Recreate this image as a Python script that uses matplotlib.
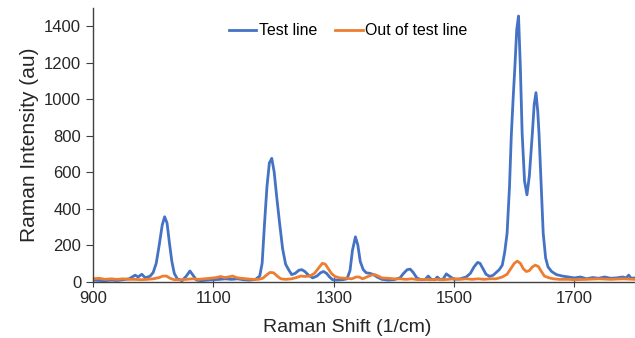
import matplotlib.pyplot as plt

plt.rcParams['font.family'] = ['Liberation Sans', 'DejaVu Sans']

# Raman shift (1/cm) and intensities (au)
shift_test = [900, 910, 920, 930, 940, 950, 960, 970, 975, 981, 987, 995,
              1000, 1005, 1010, 1015, 1019, 1023, 1027, 1031, 1035, 1040,
              1048, 1055, 1061, 1066, 1072, 1080, 1090, 1100, 1110, 1120,
              1130, 1140, 1150, 1160, 1170, 1177, 1181, 1185, 1189, 1193,
              1197, 1201, 1205, 1210, 1215, 1220, 1225, 1230, 1236, 1242,
              1247, 1252, 1258, 1265, 1272, 1278, 1283, 1288, 1293, 1298,
              1305, 1315, 1322, 1327, 1331, 1336, 1340, 1344, 1349, 1354,
              1360, 1366, 1372, 1380, 1390, 1400, 1410, 1416, 1422, 1427,
              1432, 1438, 1445, 1452, 1457, 1462, 1468, 1472, 1477, 1482,
              1487, 1492, 1500, 1510, 1520, 1527, 1533, 1539, 1543, 1548,
              1553, 1559, 1565, 1570, 1575, 1580, 1584, 1588, 1592, 1595,
              1598, 1601, 1604, 1607, 1610, 1613, 1617, 1621, 1625, 1628,
              1630, 1633, 1636, 1639, 1641, 1645, 1648, 1652, 1656, 1662,
              1670, 1680, 1690, 1700, 1710, 1720, 1730, 1740, 1750, 1760,
              1770, 1780, 1786, 1790, 1794, 1800]
test_line = [8, 6, 5, 8, 6, 10, 15, 35, 25, 40, 20, 30,
             50, 100, 200, 310, 355, 320, 210, 110, 45, 15,
             5, 30, 58, 35, 8, 5, 8, 10, 12, 15,
             12, 15, 10, 8, 12, 30, 100, 320, 520, 650,
             675, 600, 470, 320, 180, 95, 65, 38, 45, 62,
             65, 55, 35, 20, 30, 48, 55, 45, 25, 10,
             8, 10, 15, 60, 170, 245, 200, 110, 65, 48,
             45, 38, 25, 12, 8, 10, 20, 45, 65, 68,
             50, 20, 10, 12, 30, 12, 10, 25, 10, 15,
             42, 30, 12, 15, 25, 45, 80, 105, 100, 70,
             40, 28, 35, 50, 65, 90, 160, 265, 520, 800,
             1000, 1180, 1380, 1455, 1177, 813, 550, 475, 580, 720,
             813, 970, 1035, 930, 813, 500, 265, 130, 80, 55,
             38, 30, 25, 20, 25, 15, 22, 18, 25, 18,
             20, 25, 20, 35, 18, 20]

shift_out = [900, 910, 920, 930, 940, 950, 960, 970, 980, 990, 1000, 1010,
             1016, 1022, 1028, 1035, 1045, 1055, 1065, 1075, 1085, 1095,
             1105, 1112, 1118, 1125, 1132, 1138, 1145, 1155, 1165, 1175,
             1182, 1188, 1194, 1200, 1206, 1212, 1220, 1230, 1238, 1245,
             1252, 1260, 1268, 1275, 1281, 1286, 1291, 1296, 1302, 1310,
             1320, 1330, 1337, 1342, 1348, 1355, 1362, 1368, 1374, 1380,
             1390, 1400, 1410, 1420, 1430, 1440, 1450, 1460, 1470, 1480,
             1490, 1500, 1510, 1520, 1530, 1540, 1550, 1560, 1570, 1580,
             1588, 1594, 1600, 1605, 1610, 1615, 1620, 1625, 1630, 1635,
             1640, 1645, 1650, 1658, 1665, 1675, 1690, 1700, 1720, 1740,
             1760, 1780, 1800]
out_line = [15, 18, 12, 15, 12, 15, 12, 12, 10, 12, 15, 22,
            30, 30, 18, 10, 10, 12, 15, 12, 15, 18,
            22, 28, 22, 25, 30, 22, 18, 15, 12, 12,
            18, 35, 50, 48, 30, 15, 12, 15, 22, 30,
            28, 30, 45, 75, 100, 95, 70, 45, 28, 20,
            18, 15, 25, 25, 15, 25, 35, 38, 30, 20,
            18, 15, 15, 12, 15, 10, 12, 10, 12, 10,
            12, 15, 12, 15, 12, 15, 12, 15, 15, 25,
            40, 70, 100, 112, 100, 70, 55, 60, 80, 90,
            82, 55, 30, 20, 15, 12, 12, 10, 12, 15,
            12, 15, 12]

x_ticks = [900, 1100, 1300, 1500, 1700]
y_ticks = [0, 200, 400, 600, 800, 1000, 1200, 1400]

fig = plt.figure(figsize=(6.35, 3.38), dpi=100)
ax = fig.add_axes([0.1465, 0.167, 0.853, 0.81])

ax.plot(shift_test, test_line, color='#4472C4', lw=2, label='Test line',
        solid_joinstyle='round')
ax.plot(shift_out, out_line, color='#ED7D31', lw=2, label='Out of test line',
        solid_joinstyle='round')

ax.set_xlim(900, 1800)
ax.set_ylim(0, 1500)
ax.set_xticks(x_ticks)
ax.set_yticks(y_ticks)

for side in ['top', 'right']:
    ax.spines[side].set_visible(False)
for side in ['left', 'bottom']:
    ax.spines[side].set_color('#404040')
    ax.spines[side].set_linewidth(1)

ax.tick_params(axis='both', colors='#404040', labelcolor='#262626',
               labelsize=12, length=5)
ax.tick_params(axis='x', direction='inout', length=7)

ax.set_xlabel('Raman Shift (1/cm)', fontsize=14, color='#262626')
ax.xaxis.set_label_coords(0.47, -0.135)
ax.set_ylabel('Raman Intensity (au)', fontsize=15, color='#262626', labelpad=4)

ax.legend(loc='center', bbox_to_anchor=(0.471, 0.916), ncol=2,
          frameon=False, fontsize=11.4, handlelength=1.75, handletextpad=0.15,
          columnspacing=1.15)

fig.savefig('out.png', dpi=100)
